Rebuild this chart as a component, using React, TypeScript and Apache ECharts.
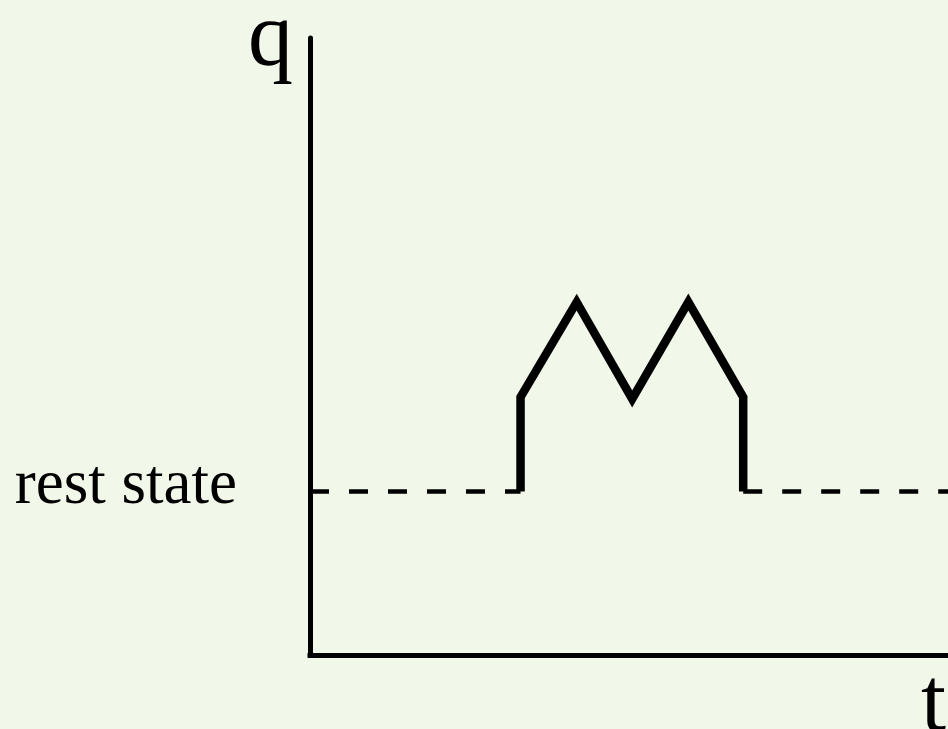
import React, { useEffect, useRef } from "react";
import * as echarts from "echarts";

// Data (time on x, q on y)
const REST = 26.5;
const pulseT = [33.0, 33.0, 41.8, 50.5, 59.3, 67.9, 67.9];
const pulseQ = [REST, 41.8, 57.2, 41.5, 57.2, 41.8, REST];
const restBeforeT = [0, 33.0];
const restAfterT = [67.9, 100];
const axisNames = { y: "q", x: "t" };
const restLabel = "rest state";

export default function App() {
  const ref = useRef<HTMLDivElement>(null);
  useEffect(() => {
    if (!ref.current) return;
    const chart = echarts.init(ref.current, undefined, { renderer: "svg" });
    const serif = "'Liberation Serif', 'Times New Roman', serif";
    const dashStyle = {
      color: "#000",
      width: 4.5,
      type: [19, 20] as number[],
      cap: "butt" as const,
    };
    chart.setOption({
      animation: false,
      backgroundColor: "#f1f8e9",
      grid: { left: 310, right: 0, top: 38, bottom: 74 },
      xAxis: {
        type: "value",
        min: 0,
        max: 100,
        axisLine: { show: true, onZero: true, lineStyle: { color: "#000", width: 5, cap: "square" } },
        axisTick: { show: false },
        axisLabel: { show: false },
        splitLine: { show: false },
      },
      yAxis: {
        type: "value",
        min: 0,
        max: 100,
        axisLine: { show: true, lineStyle: { color: "#000", width: 5 } },
        axisTick: { show: false },
        axisLabel: { show: false },
        splitLine: { show: false },
      },
      graphic: [
        {
          type: "text",
          x: 293,
          y: 4,
          style: {
            text: axisNames.y,
            font: `90px ${serif}`,
            lineHeight: 60,
            fill: "#000",
            textAlign: "right",
            textVerticalAlign: "top",
          } as any,
        },
        {
          type: "text",
          x: 921,
          y: 669,
          style: {
            text: axisNames.x,
            font: `90px ${serif}`,
            lineHeight: 60,
            fill: "#000",
            textAlign: "left",
            textVerticalAlign: "top",
          } as any,
        },
        {
          type: "text",
          x: 237,
          y: 450,
          style: {
            text: restLabel,
            font: `63px ${serif}`,
            fill: "#000",
            textAlign: "right",
            textVerticalAlign: "top",
          } as any,
        },
      ],
      series: [
        {
          type: "line",
          data: restBeforeT.map((t) => [t, REST]),
          symbol: "none",
          lineStyle: dashStyle,
          z: 1,
        },
        {
          type: "line",
          data: restAfterT.map((t) => [t, REST]),
          symbol: "none",
          lineStyle: dashStyle,
          z: 1,
        },
        {
          type: "line",
          data: pulseT.map((t, i) => [t, pulseQ[i]]),
          symbol: "none",
          lineStyle: { color: "#000", width: 8.5, join: "miter", cap: "butt", miterLimit: 10 },
          z: 2,
        },
      ],
    });
    return () => chart.dispose();
  }, []);
  return (
    <div
      ref={ref}
      style={{ position: "fixed", left: 0, top: 0, width: 948, height: 729 }}
    />
  );
}
